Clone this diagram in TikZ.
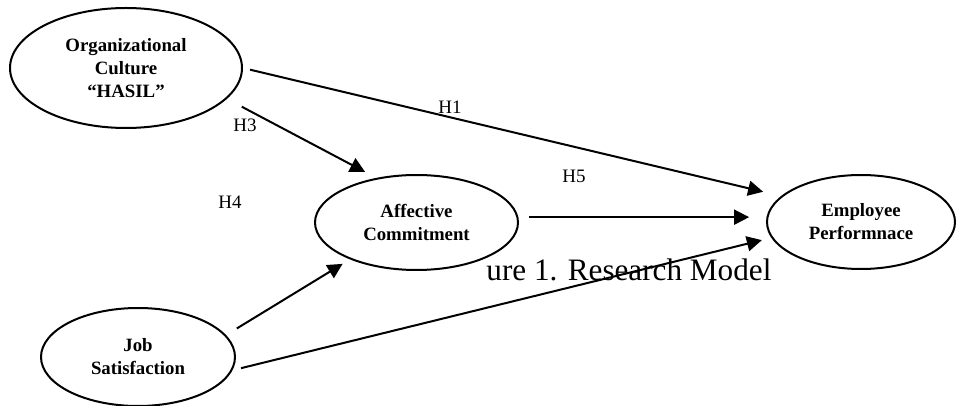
\documentclass[tikz,border=0pt]{standalone}
\usepackage{fontspec}
\setmainfont{Liberation Serif}
\usetikzlibrary{shapes.geometric, arrows.meta}

\begin{document}
\begin{tikzpicture}[x=0.5pt, y=-0.5pt,
    construct/.style={ellipse, draw, line width=1pt, inner sep=0pt, align=center,
      font=\fontsize{9.4}{11.5}\selectfont\bfseries},
    hyp/.style={font=\fontsize{9.5}{11}\selectfont}]
        \tikzset{>={Triangle[length=7.5pt, width=7.5pt]}}

        % Page
        \useasboundingbox (0,0) rectangle (958,406);

        % Caption, partly hidden
        \node[anchor=base west, inner sep=0pt, font=\fontsize{15.6}{18}\selectfont] (caption) at (486,280) {ure 1. Research Model};

        % Constructs
        \node[construct, minimum width=116pt, minimum height=60pt] (culture) at (126,68) {Organizational\\Culture\\``HASIL''};
        \node[construct, minimum width=101.5pt, minimum height=47.5pt] (commit) at (416.5,222.5) {Affective\\Commitment};
        \node[construct, minimum width=94pt, minimum height=47pt] (perform) at (861,222) {Employee\\Performnace};
        \node[construct, minimum width=97pt, minimum height=49pt] (satisf) at (138,357) {Job\\Satisfaction};

        % Paths
        \draw[line width=1pt, ->, shorten <=3.6pt, shorten >=9.25pt] (culture.0) -- (perform.162.8);
        \draw[line width=1pt, ->, shorten <=8.4pt, shorten >=6.35pt] (culture.-17.5) -- (commit.132.75);
        \draw[line width=1pt, ->, shorten <=5.5pt, shorten >=8.9pt] (commit.3.7) -- (commit.3.7 -| perform.176.3);
        \draw[line width=1pt, ->, shorten <=6.3pt, shorten >=4.3pt] (satisf.14.6) -- (commit.-151.4);
        \draw[line width=1pt, ->, shorten <=4.4pt, shorten >=4.85pt] (satisf.-8) -- (perform.-170);

        % Labels
        \node[hyp] (h1) at (450,107) {H1};
        \node[hyp] (h3) at (245,125) {H3};
        \node[hyp] (h4) at (230,202) {H4};
        \node[hyp] (h5) at (574,176) {H5};
\end{tikzpicture}
\end{document}
